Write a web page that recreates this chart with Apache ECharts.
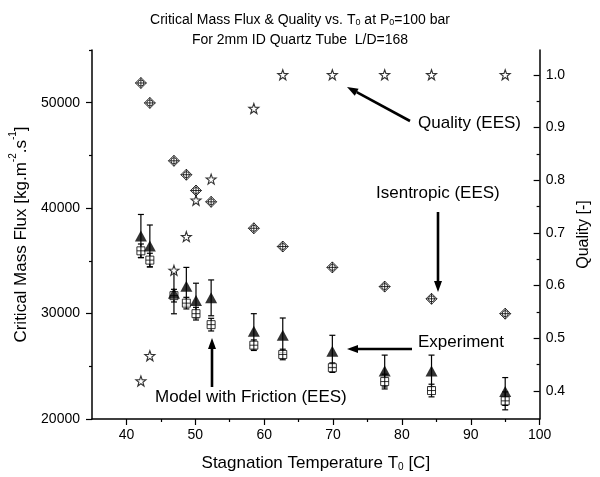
<!DOCTYPE html>
<html>
<head>
<meta charset="utf-8">
<script src="https://cdn.jsdelivr.net/npm/echarts@6/dist/echarts.min.js"></script>
<style>html,body{margin:0;padding:0;background:#fff}#c{width:600px;height:477px}</style>
</head>
<body>
<div id="c"></div>
<script>
// ---- data ----
var temperature = [42.1, 43.4, 46.9, 48.7, 50.1, 52.3, 58.5, 62.7, 69.9, 77.5, 84.3, 95.0];
var isentropic  = [51870, 49980, 44490, 43170, 41670, 40600, 38090, 36360, 34380, 32560, 31400, 29990];
var experiment  = [37360, 36420, 31930, 32590, 31240, 31490, 28320, 27940, 26430, 24550, 24550, 22610];
var experimentErr = [2040, 1980, 1950, 1790, 1640, 1700, 1670, 1640, 1510, 1510, 1510, 1320];
var modelFriction = [35950, 35070, 31700, 30990, 29990, 28950, 27000, 26120, 24870, 23550, 22700, 21720];
var modelErr = [650, 650, 600, 550, 600, 600, 500, 500, 450, 700, 600, 850];
var quality = [0.419, 0.467, 0.629, 0.693, 0.762, 0.802, 0.936, 1.0, 1.0, 1.0, 1.0, 1.0];
var xTicks = [40, 50, 60, 70, 80, 90, 100];
var xMinorTicks = [45, 55, 65, 75, 85, 95];
var fluxTicks = [20000, 30000, 40000, 50000];
var fluxMinorTicks = [25000, 35000, 45000, 55000];
var qualityTicks = [0.4, 0.5, 0.6, 0.7, 0.8, 0.9, 1.0];
var qualityMinorTicks = [0.45, 0.55, 0.65, 0.75, 0.85, 0.95];

var FONT = '"Liberation Sans", Arial, sans-serif';
function pairs(xs, ys) { return xs.map(function (x, i) { return [x, ys[i]]; }); }
function errData(xs, ys, es) { return xs.map(function (x, i) { return [x, ys[i] - es[i], ys[i] + es[i]]; }); }

var chart = echarts.init(document.getElementById('c'), null, {renderer: 'canvas'});

function errorBar(params, api) {
  var x = api.value(0), lo = api.value(1), hi = api.value(2);
  var pLo = api.coord([x, lo]), pHi = api.coord([x, hi]);
  var w = 3;
  var st = {stroke: '#000', lineWidth: 1.2};
  return {type: 'group', children: [
    {type: 'line', shape: {x1: pLo[0], y1: pLo[1], x2: pHi[0], y2: pHi[1]}, style: st},
    {type: 'line', shape: {x1: pLo[0] - w, y1: pLo[1], x2: pLo[0] + w, y2: pLo[1]}, style: st},
    {type: 'line', shape: {x1: pHi[0] - w, y1: pHi[1], x2: pHi[0] + w, y2: pHi[1]}, style: st}
  ]};
}

var diamondPath = 'path://M10,0L20,10L10,20L0,10Z M10,0L10,20 M0,10L20,10 M10,4.5A5.5,5.5,0,1,1,9.99,4.5';
var starPath = 'path://M10,0L12.35,6.76L19.51,6.91L13.8,11.24L15.88,18.09L10,14L4.12,18.09L6.2,11.24L0.49,6.91L7.65,6.76Z';
var sqPath = 'path://M0,0L10,0L10,10L0,10Z M5,0L5,10 M0,5L10,5';

function tickAxisBase(extra) {
  return Object.assign({
    type: 'value',
    axisLine: {show: false},
    splitLine: {show: false},
    axisLabel: {show: false},
    axisTick: {show: true, lineStyle: {color: '#000', width: 1.2}}
  }, extra);
}

var titleRich = {
  n: {fontSize: 14, fontFamily: FONT, color: '#000', lineHeight: 20, verticalAlign: 'bottom'},
  s: {fontSize: 9, fontFamily: FONT, color: '#000', lineHeight: 9, verticalAlign: 'bottom'}
};

function arrow(x1, y1, x2, y2) {
  var dx = x2 - x1, dy = y2 - y1, L = Math.sqrt(dx * dx + dy * dy);
  var ux = dx / L, uy = dy / L, hl = 11, hw = 4;
  var bx = x2 - ux * hl, by = y2 - uy * hl;
  return [
    {type: 'line', shape: {x1: x1, y1: y1, x2: bx, y2: by}, style: {stroke: '#000', lineWidth: 2.6}},
    {type: 'polygon', shape: {points: [[x2, y2], [bx - uy * hw, by + ux * hw], [bx + uy * hw, by - ux * hw]]}, style: {fill: '#000'}}
  ];
}
function label(text, x, y) {
  return {type: 'text', left: x, top: y, style: {text: text, font: '17px ' + FONT, fill: '#000', textVerticalAlign: 'middle'}};
}

var graphics = [].concat(
  arrow(410, 121, 347, 87),
  arrow(438, 212, 438, 292),
  arrow(412, 349, 347, 349),
  arrow(212, 387, 212, 338),
  [label('Quality (EES)', 418, 115), label('Isentropic (EES)', 376, 185),
   label('Experiment', 418, 334), label('Model with Friction (EES)', 155, 389)]
);

var option = {
  backgroundColor: '#fff',
  animation: false,
  title: {
    text: '{n|Critical Mass Flux & Quality vs. T}{s|0}{n| at P}{s|0}{n|=100 bar}\n{n|For 2mm ID Quartz Tube  L/D=168}',
    left: 'center', top: 2,
    textStyle: {rich: titleRich, fontSize: 14, fontWeight: 'normal', fontFamily: FONT, color: '#000'}
  },
  grid: {left: 92, right: 53, top: 50, bottom: 56},
  xAxis: [
    {
      type: 'value', min: 35, max: 100,
      name: '{n|Stagnation Temperature T}{s|0}{n| [C]}',
      nameLocation: 'middle', nameGap: 31,
      nameTextStyle: {rich: {
        n: {fontSize: 17, fontFamily: FONT, color: '#000', lineHeight: 22, verticalAlign: 'bottom'},
        s: {fontSize: 10, fontFamily: FONT, color: '#000', lineHeight: 10, verticalAlign: 'bottom'}}},
      axisLine: {show: true, onZero: false, lineStyle: {color: '#000', width: 1.5}},
      axisTick: {show: true, length: 6, customValues: xTicks, lineStyle: {color: '#000', width: 1.2}},
      axisLabel: {customValues: xTicks, color: '#000', fontSize: 14, fontFamily: FONT, margin: 9},
      splitLine: {show: false}
    },
    tickAxisBase({min: 35, max: 100, position: 'bottom',
      axisTick: {show: true, length: 3, customValues: xMinorTicks, lineStyle: {color: '#000', width: 1.2}}})
  ],
  yAxis: [
    {
      type: 'value', min: 20000, max: 55000, position: 'left',
      name: '{n|Critical Mass Flux [kg.m}{p|-2}{n|.s}{p|-1}{n|]}',
      nameLocation: 'middle', nameGap: 52, nameRotate: 90,
      nameTextStyle: {rich: {
        n: {fontSize: 17, fontFamily: FONT, color: '#000', lineHeight: 22, verticalAlign: 'bottom'},
        p: {fontSize: 10, fontFamily: FONT, color: '#000', lineHeight: 10, verticalAlign: 'top'}}},
      axisLine: {show: true, onZero: false, lineStyle: {color: '#000', width: 1.5}},
      axisTick: {show: true, length: 6, customValues: fluxTicks, lineStyle: {color: '#000', width: 1.2}},
      axisLabel: {customValues: fluxTicks, color: '#000', fontSize: 14, fontFamily: FONT, margin: 12,
        formatter: function (v) { return String(Math.round(v)); }},
      splitLine: {show: false}
    },
    {
      type: 'value', min: 0.347, max: 1.047, position: 'right',
      name: 'Quality [-]', nameLocation: 'middle', nameGap: 24, nameRotate: 90,
      nameTextStyle: {fontSize: 16, fontFamily: FONT, color: '#000'},
      axisLine: {show: true, onZero: false, lineStyle: {color: '#000', width: 1.5}},
      axisTick: {show: true, inside: true, length: 6, customValues: qualityTicks, lineStyle: {color: '#000', width: 1.2}},
      axisLabel: {customValues: qualityTicks, color: '#000', fontSize: 14, fontFamily: FONT, margin: 6,
        formatter: function (v) { return v.toFixed(1); }},
      splitLine: {show: false}
    },
    tickAxisBase({min: 20000, max: 55000, position: 'left',
      axisTick: {show: true, length: 3, customValues: fluxMinorTicks, lineStyle: {color: '#000', width: 1.2}}}),
    tickAxisBase({min: 0.347, max: 1.047, position: 'right',
      axisTick: {show: true, inside: true, length: 3, customValues: qualityMinorTicks, lineStyle: {color: '#000', width: 1.2}}})
  ],
  series: [
    {
      name: 'Experiment error', type: 'custom', xAxisIndex: 0, yAxisIndex: 0,
      data: errData(temperature, experiment, experimentErr), renderItem: errorBar, z: 2, encode: {x: 0, y: [1, 2]}
    },
    {
      name: 'Model error', type: 'custom', xAxisIndex: 0, yAxisIndex: 0,
      data: errData(temperature, modelFriction, modelErr), renderItem: errorBar, z: 2, encode: {x: 0, y: [1, 2]}
    },
    {
      name: 'Model with Friction (EES)', type: 'scatter', xAxisIndex: 0, yAxisIndex: 0,
      data: pairs(temperature, modelFriction), symbol: sqPath, symbolSize: 8, z: 3,
      itemStyle: {color: '#fff', borderColor: '#000', borderWidth: 1}
    },
    {
      name: 'Experiment', type: 'scatter', xAxisIndex: 0, yAxisIndex: 0,
      data: pairs(temperature, experiment), symbol: 'triangle', symbolSize: [12, 11], z: 4,
      itemStyle: {color: '#000'}
    },
    {
      name: 'Isentropic (EES)', type: 'scatter', xAxisIndex: 0, yAxisIndex: 0,
      data: pairs(temperature, isentropic), symbol: diamondPath, symbolSize: 11, z: 3,
      itemStyle: {color: '#fff', borderColor: '#000', borderWidth: 1}
    },
    {
      name: 'Quality (EES)', type: 'scatter', xAxisIndex: 0, yAxisIndex: 1,
      data: pairs(temperature, quality), symbol: starPath, symbolSize: 10, z: 3,
      itemStyle: {color: '#fff', borderColor: '#000', borderWidth: 1.1}
    }
  ],
  graphic: graphics
};
chart.setOption(option);
</script>
</body>
</html>
